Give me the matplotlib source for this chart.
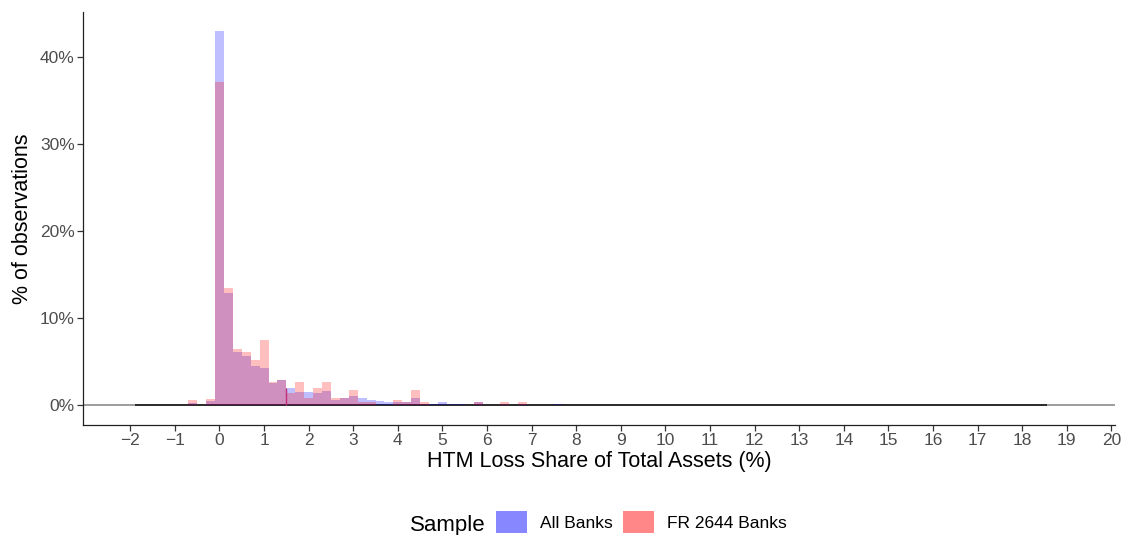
import numpy as np
import matplotlib.pyplot as plt
from matplotlib.patches import Patch
from matplotlib.ticker import FuncFormatter

plt.rcParams['font.family'] = ['Liberation Sans', 'DejaVu Sans']

# histogram bins (width 0.2), shares in % of observations
bin_width = 0.2
bin_centers = [-0.6, -0.4, -0.2, 0.0, 0.2, 0.4, 0.6, 0.8, 1.0, 1.2, 1.4,
               1.6, 1.8, 2.0, 2.2, 2.4, 2.6, 2.8, 3.0, 3.2, 3.4, 3.6, 3.8,
               4.0, 4.2, 4.4, 4.6, 4.8, 5.0, 5.2, 5.4, 5.6, 5.8, 6.0, 6.2,
               6.4, 6.6, 6.8, 7.0, 7.2, 7.4, 7.6]
all_banks = [0.2, 0.0, 0.44, 43.0, 12.9, 6.1, 5.6, 4.5, 4.2, 2.5, 2.9,
             2.0, 1.55, 1.55, 1.43, 1.66, 0.52, 0.86, 0.98, 0.75, 0.52, 0.48, 0.40,
             0.40, 0.40, 0.75, 0.17, 0.17, 0.40, 0.17, 0.17, 0.0, 0.29, 0.0, 0.0,
             0.17, 0.0, 0.17, 0.0, 0.0, 0.0, 0.17]
fr2644_banks = [0.63, 0.0, 0.67, 37.1, 13.4, 6.4, 6.1, 5.2, 7.5, 2.6, 2.9,
                1.4, 2.6, 0.86, 2.0, 2.6, 0.86, 0.86, 1.78, 0.29, 0.29, 0.0, 0.0,
                0.63, 0.29, 1.78, 0.29, 0.0, 0.0, 0.0, 0.0, 0.0, 0.29, 0.0, 0.0,
                0.29, 0.0, 0.29, 0.0, 0.0, 0.0, 0.0]

series_labels = ['All Banks', 'FR 2644 Banks']
series_colors = ['#0000ff', '#ff0000']

# observed range of the loss share and the 1.5% marker
data_min, data_max = -1.9, 18.55
marker_x = 1.5
marker_top = all_banks[bin_centers.index(1.6)]

x_ticks = list(range(-2, 21))
y_ticks = [0, 10, 20, 30, 40]

fig = plt.figure(figsize=(11.25, 5.35), dpi=100)
ax = fig.add_axes([0.0738, 0.2056, 0.9173, 0.772])

ax.axhline(0, color='#8c8c8c', lw=1.2, zorder=1)
ax.hlines(0, data_min, data_max, color='#222222', lw=1.3, zorder=2)

for vals, col in zip([all_banks, fr2644_banks], series_colors):
    ax.bar(bin_centers, vals, width=bin_width, color=col, alpha=0.25,
           linewidth=0, zorder=3)

ax.vlines(marker_x, 0, marker_top, color='#c0307a', lw=1.0, zorder=4)

ax.set_xlim(-3.06, 20.08)
ax.set_ylim(-2.3, 45.2)
ax.set_xticks(x_ticks)
ax.set_yticks(y_ticks)
ax.yaxis.set_major_formatter(FuncFormatter(lambda v, p: '%d%%' % v))
ax.tick_params(colors='#333333', labelcolor='#4d4d4d', labelsize=12.5,
               length=4, width=0.9, pad=2)
for side in ['top', 'right']:
    ax.spines[side].set_visible(False)
for side in ['left', 'bottom']:
    ax.spines[side].set_color('#222222')
    ax.spines[side].set_linewidth(0.9)

ax.set_xlabel('HTM Loss Share of Total Assets (%)', fontsize=15.5, labelpad=2)
ax.set_ylabel('% of observations', fontsize=15.5, labelpad=5)

handles = [Patch(facecolor=c, alpha=0.47, edgecolor='none') for c in series_colors]
fig.legend(handles, series_labels, ncol=2, loc='center',
           bbox_to_anchor=(0.570, 0.024), frameon=False, fontsize=12.5,
           handlelength=1.75, handleheight=1.55, handletextpad=0.75,
           columnspacing=0.63, borderpad=0)
fig.text(0.398, 0.018, 'Sample', fontsize=16, ha='center', va='center')

fig.savefig('out.png', dpi=100)
